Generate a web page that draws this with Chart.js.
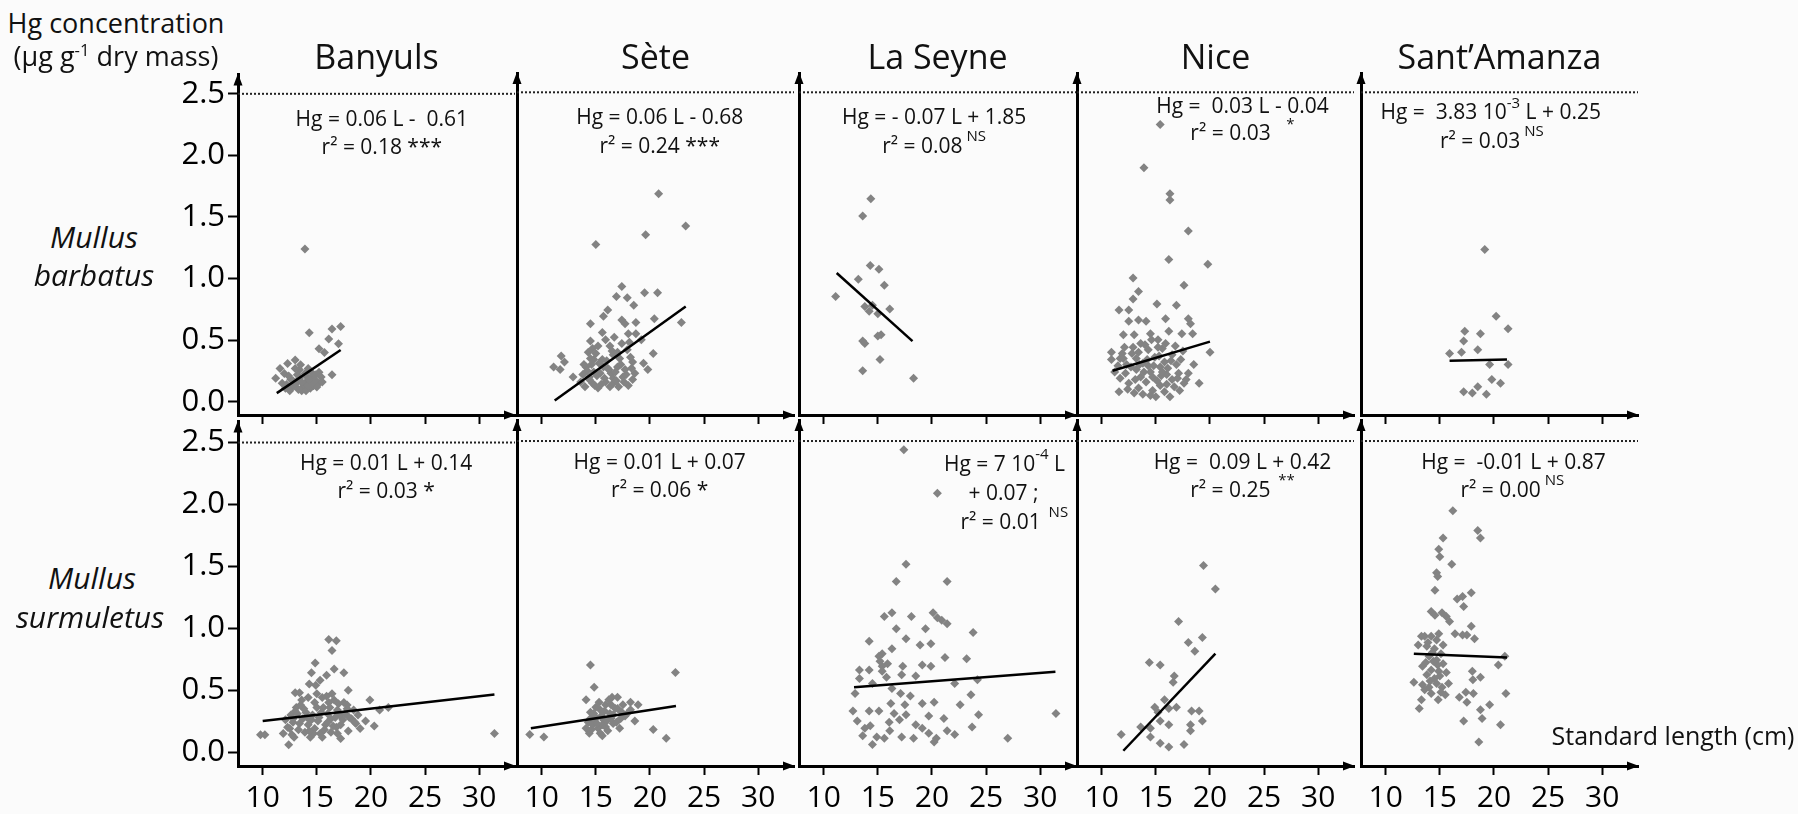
<!DOCTYPE html>
<html><head><meta charset="utf-8">
<script src="https://cdn.jsdelivr.net/npm/chart.js@4.4.0/dist/chart.umd.min.js"></script>
<style>
html,body{margin:0;padding:0;background:#fbfbfb;}
body{width:1798px;height:814px;position:relative;overflow:hidden;font-family:'Open Sans',sans-serif;color:#111;}
canvas{position:absolute;}
.lbl{position:absolute;white-space:nowrap;transform:translate(-50%,-50%);line-height:1;}
.lbl sup{font-size:0.62em;vertical-align:0.55em;line-height:0;}
</style></head><body>
<script>
// ---------- data ----------
const xTickValues = [10, 15, 20, 25, 30];
const xTickLabels = ['10', '15', '20', '25', '30'];
const yTickValues = [0, 0.5, 1, 1.5, 2, 2.5];
const yTickLabels = ['0.0', '0.5', '1.0', '1.5', '2.0', '2.5'];
const threshold = [2.5];
const sites = ['Banyuls', 'Sète', 'La Seyne', 'Nice', 'Sant’Amanza'];
const speciesNames = [['Mullus', 'barbatus'], ['Mullus', 'surmuletus']];

// Mullus barbatus: [standard length (cm), Hg (µg/g dw)]
const mbBanyuls = [[13.9,1.24],[14.3,0.56],[16.4,0.59],[17.2,0.61],[16.1,0.51],[17.0,0.47],[15.2,0.43],[15.7,0.40],[13.0,0.34],[12.3,0.31],[11.6,0.27],[11.2,0.19],[12.0,0.23],[15.2,0.24],[16.4,0.22],[15.2,0.15],[12.1,0.11],[12.6,0.18],[13.1,0.15],[13.4,0.19],[13.7,0.12],[14.0,0.16],[14.4,0.11],[13.9,0.23],[14.5,0.20],[12.7,0.12],[13.6,0.09],[14.7,0.13],[14.2,0.27],[13.4,0.26],[14.8,0.18],[12.5,0.09],[13.2,0.22],[15.4,0.20],[14.5,0.24],[11.8,0.15],[14.0,0.09],
  [12.9,0.13],[13.3,0.10],[13.8,0.14],[14.2,0.13],[14.6,0.16],[15.0,0.12],[12.4,0.21],[13.0,0.27],[13.5,0.30],[14.1,0.20],[14.9,0.22],[12.8,0.17],[13.6,0.16],[14.3,0.18],[15.5,0.16],[12.2,0.14]];
const mbSete = [[20.8,1.68],[23.3,1.42],[19.6,1.35],[15.0,1.27],[17.4,0.93],[16.9,0.85],[17.9,0.84],[18.5,0.78],[19.5,0.88],[20.7,0.88],[16.1,0.74],[15.7,0.69],[14.5,0.63],[17.4,0.66],[17.7,0.63],[18.7,0.64],[20.4,0.67],[22.9,0.64],[15.6,0.56],[18.0,0.55],[18.7,0.55],[14.5,0.49],[19.2,0.50],[16.3,0.45],[14.7,0.43],[11.8,0.37],[12.1,0.32],[11.1,0.28],[11.7,0.26],[12.9,0.20],[20.3,0.39],[18.4,0.32],[19.4,0.31],[19.8,0.26],[18.4,0.18],[14.1,0.28],[14.8,0.34],[15.4,0.23],[15.9,0.16],[16.6,0.38],[17.0,0.28],[17.5,0.20],[18.0,0.13],[14.0,0.12],[14.7,0.15],[15.2,0.11],[16.3,0.12],[17.1,0.12],[14.4,0.20],[15.7,0.28],[16.4,0.23],[17.2,0.35],[17.9,0.42],[18.2,0.36],[15.0,0.39],[14.5,0.35],[15.6,0.34],[16.1,0.27],[16.6,0.19],[17.7,0.26],[14.8,0.24],[14.4,0.18],[18.6,0.23],[13.6,0.16],[16.6,0.15],
  [14.2,0.25],[14.6,0.30],[15.1,0.21],[15.3,0.31],[15.8,0.19],[16.0,0.33],[16.2,0.26],[16.8,0.24],[17.3,0.30],[17.6,0.16],[13.8,0.22],[14.9,0.13],[15.5,0.14],[16.9,0.17],[17.8,0.22],[18.3,0.27],[15.2,0.45],[15.9,0.50],[16.7,0.52],[17.4,0.47],[18.1,0.48],[14.3,0.40],[13.9,0.30],[16.5,0.41],[17.0,0.40]];
const mbLaSeyne = [[14.35,1.64],[13.6,1.50],[14.3,1.10],[15.1,1.07],[13.2,0.99],[15.6,0.94],[11.1,0.85],[13.8,0.77],[14.5,0.78],[14.2,0.73],[16.1,0.75],[15.0,0.71],[15.3,0.54],[15.0,0.53],[13.6,0.49],[13.8,0.47],[15.2,0.34],[13.6,0.25],[18.3,0.19]];
const mbNice = [[15.4,2.24],[13.9,1.89],[16.3,1.68],[16.3,1.63],[18.0,1.38],[16.2,1.15],[19.8,1.11],[12.9,1.00],[17.6,0.94],[13.4,0.89],[12.9,0.83],[15.1,0.79],[16.9,0.78],[11.6,0.74],[12.5,0.74],[12.5,0.65],[13.4,0.66],[14.1,0.65],[15.9,0.67],[18.0,0.67],[18.2,0.63],[12.0,0.54],[13.0,0.54],[14.5,0.55],[16.2,0.57],[17.4,0.55],[18.4,0.55],[15.2,0.50],[10.9,0.40],[20.0,0.40],[11.7,0.35],[19.0,0.15],[16.3,0.04],[11.6,0.08],[17.8,0.18],[17.3,0.34],[12.1,0.44],[12.8,0.39],[13.6,0.47],[14.3,0.42],[14.9,0.36],[15.6,0.43],[16.5,0.38],[16.9,0.30],[12.3,0.30],[13.2,0.26],[13.8,0.31],[14.5,0.24],[15.4,0.28],[16.0,0.22],[17.1,0.23],[11.7,0.19],[12.5,0.15],[13.4,0.11],[14.1,0.16],[14.7,0.09],[15.4,0.13],[15.8,0.08],[16.7,0.12],[17.6,0.15],[13.0,0.07],[13.6,0.20],[16.5,0.18],[14.7,0.20],[11.2,0.24],[11.9,0.39],[13.2,0.35],[15.2,0.44],[15.8,0.32],[14.5,0.05],[18.0,0.23],[10.9,0.34],
  [12.2,0.23],[12.7,0.28],[13.1,0.18],[13.5,0.30],[13.9,0.24],[14.2,0.34],[14.8,0.29],[15.1,0.17],[15.5,0.21],[16.1,0.27],[16.4,0.33],[17.0,0.19],[12.9,0.44],[13.4,0.40],[14.0,0.46],[14.6,0.50],[15.3,0.37],[15.9,0.47],[16.8,0.45],[17.5,0.41],[12.4,0.10],[13.8,0.06],[15.0,0.04],[16.0,0.14],[17.2,0.09],[11.5,0.29],[12.0,0.35],[18.5,0.30],[14.3,0.29],[15.6,0.24]];
const mbSantAmanza = [[19.15,1.23],[20.2,0.69],[21.3,0.59],[17.3,0.57],[18.75,0.55],[17.2,0.49],[15.9,0.39],[17.0,0.40],[18.5,0.42],[19.6,0.30],[21.3,0.30],[19.8,0.18],[20.6,0.15],[18.5,0.12],[17.2,0.08],[18.0,0.07],[19.3,0.06]];

// Mullus surmuletus
const msBanyuls = [[31.4,0.15],[16.1,0.91],[16.8,0.90],[16.4,0.82],[14.85,0.72],[14.5,0.64],[16.6,0.67],[17.5,0.64],[15.9,0.62],[15.3,0.58],[14.9,0.54],[17.9,0.50],[14.3,0.55],[13.0,0.48],[13.4,0.48],[19.9,0.42],[17.8,0.38],[20.8,0.34],[21.6,0.36],[19.5,0.25],[20.3,0.21],[18.6,0.23],[9.8,0.14],[10.2,0.14],[12.4,0.06],[17.2,0.11],[11.9,0.15],[12.1,0.26],[12.6,0.30],[13.1,0.36],[13.6,0.42],[14.0,0.32],[14.5,0.26],[15.0,0.36],[15.5,0.44],[16.0,0.31],[16.4,0.47],[16.9,0.34],[17.4,0.26],[17.9,0.17],[12.5,0.19],[12.9,0.12],[13.4,0.23],[13.9,0.16],[14.4,0.12],[14.8,0.19],[15.3,0.15],[15.8,0.22],[16.3,0.16],[16.8,0.20],[18.2,0.27],[18.8,0.30],[17.5,0.40],[16.1,0.40],[15.2,0.28],[13.7,0.27],[13.2,0.31],[14.2,0.44],[15.6,0.36],[17.1,0.30],[18.4,0.34],[12.8,0.24],[16.3,0.27],[14.7,0.15],[19.0,0.19],
  [12.3,0.20],[12.8,0.27],[13.3,0.18],[13.8,0.35],[14.2,0.22],[14.6,0.30],[15.1,0.25],[15.4,0.32],[15.7,0.18],[16.0,0.24],[16.2,0.36],[16.5,0.21],[16.7,0.28],[17.0,0.39],[17.2,0.22],[17.6,0.31],[13.5,0.38],[14.1,0.28],[14.8,0.40],[15.9,0.45],[16.6,0.42],[13.0,0.33],[12.7,0.14],[14.3,0.17],[15.5,0.12],[16.9,0.15],[18.0,0.28],[18.5,0.24],[17.8,0.35],[15.0,0.47]];
const msSete = [[8.9,0.14],[10.2,0.12],[14.5,0.70],[22.35,0.64],[14.85,0.52],[14.1,0.42],[16.5,0.44],[17.0,0.44],[18.2,0.40],[18.9,0.38],[18.6,0.25],[20.3,0.18],[21.5,0.11],[15.6,0.13],[14.4,0.15],[14.5,0.32],[15.0,0.28],[15.4,0.34],[15.7,0.26],[16.3,0.31],[16.6,0.23],[17.0,0.35],[17.3,0.27],[17.9,0.31],[14.7,0.22],[15.2,0.19],[16.1,0.17],[16.6,0.30],[14.9,0.26],[15.6,0.22],[14.1,0.19],[17.5,0.38],[15.9,0.38],[18.2,0.34],[14.5,0.27],[15.4,0.15],[17.2,0.19],[16.4,0.38],[15.0,0.36],
  [14.3,0.24],[14.8,0.31],[15.1,0.23],[15.5,0.29],[15.8,0.33],[16.0,0.25],[16.4,0.27],[16.9,0.24],[17.4,0.32],[15.3,0.40],[16.2,0.42],[14.6,0.18],[17.7,0.29],[16.8,0.35],[15.9,0.20]];
const msLaSeyne = [[17.4,2.43],[20.5,2.08],[17.6,1.51],[16.7,1.37],[21.4,1.37],[16.3,1.12],[15.6,1.09],[18.1,1.09],[20.1,1.12],[20.5,1.08],[20.9,1.06],[21.4,1.03],[16.7,0.99],[19.4,0.99],[23.8,0.96],[14.2,0.89],[17.6,0.91],[18.9,0.86],[19.9,0.87],[15.4,0.79],[16.3,0.83],[21.2,0.76],[23.2,0.75],[19.1,0.70],[19.9,0.69],[17.3,0.69],[13.3,0.66],[14.2,0.66],[15.4,0.69],[15.9,0.71],[18.5,0.61],[17.2,0.62],[22.1,0.55],[24.2,0.58],[13.3,0.59],[14.5,0.55],[16.3,0.51],[12.9,0.47],[18.0,0.45],[23.6,0.46],[17.1,0.47],[19.1,0.39],[20.2,0.40],[22.6,0.38],[16.2,0.39],[17.5,0.38],[12.7,0.33],[14.2,0.33],[15.1,0.33],[16.5,0.31],[17.6,0.30],[19.7,0.29],[24.3,0.30],[31.45,0.31],[13.1,0.25],[16.05,0.24],[17.0,0.26],[21.1,0.27],[18.5,0.22],[23.7,0.20],[13.8,0.19],[14.3,0.21],[16.1,0.17],[19.1,0.19],[19.7,0.15],[21.4,0.17],[22.1,0.14],[13.6,0.13],[14.9,0.12],[15.6,0.11],[17.2,0.12],[18.3,0.11],[20.2,0.08],[20.4,0.11],[27.0,0.11],[14.5,0.06],[15.1,0.77],[15.2,0.73],[15.4,0.65],[15.8,0.60]];
const msNice = [[19.4,1.50],[20.5,1.31],[17.1,1.05],[18.0,0.88],[19.3,0.92],[18.6,0.81],[14.4,0.72],[15.4,0.70],[16.7,0.61],[16.6,0.56],[15.8,0.42],[16.9,0.36],[16.2,0.35],[15.2,0.32],[18.3,0.33],[19.0,0.33],[15.4,0.25],[16.2,0.22],[18.2,0.22],[19.3,0.25],[18.2,0.17],[13.6,0.20],[14.5,0.19],[14.5,0.12],[11.8,0.14],[15.4,0.07],[16.2,0.04],[17.6,0.06],[14.9,0.36]];
const msSantAmanza = [[16.2,1.94],[15.3,1.72],[18.5,1.78],[18.75,1.72],[14.9,1.63],[15.0,1.57],[16.1,1.51],[14.7,1.44],[14.8,1.41],[14.55,1.30],[17.9,1.28],[17.1,1.25],[16.6,1.23],[17.2,1.17],[14.2,1.13],[14.55,1.10],[15.2,1.12],[15.6,1.09],[15.9,1.05],[16.4,0.95],[17.1,0.94],[17.5,0.94],[17.9,1.01],[18.2,0.91],[13.3,0.93],[13.6,0.93],[14.2,0.93],[14.7,0.90],[13.0,0.86],[13.8,0.85],[14.5,0.83],[15.1,0.79],[14.0,0.77],[14.7,0.74],[15.3,0.71],[21.0,0.77],[20.4,0.70],[13.4,0.69],[14.2,0.66],[14.9,0.65],[13.8,0.62],[14.5,0.59],[18.0,0.65],[18.75,0.60],[18.05,0.58],[12.6,0.56],[13.4,0.54],[14.0,0.52],[14.7,0.55],[15.2,0.52],[15.8,0.55],[13.6,0.50],[14.2,0.47],[15.1,0.48],[15.5,0.46],[14.85,0.42],[17.4,0.48],[18.1,0.47],[16.8,0.44],[21.1,0.47],[17.5,0.40],[13.3,0.42],[13.1,0.35],[18.75,0.34],[19.6,0.38],[18.9,0.27],[17.2,0.25],[20.6,0.22],[18.6,0.08],
  [13.9,0.88],[14.3,0.80],[14.8,0.70],[15.0,0.61],[14.4,0.73],[13.7,0.72],[15.3,0.86],[14.1,0.57],[15.6,0.64],[14.9,0.95]];

// regression line end points [L, Hg]
const mbBanyulsFit = [[11.3,0.07],[17.2,0.42]];
const mbSeteFit = [[11.2,0.01],[23.3,0.77]];
const mbLaSeyneFit = [[11.2,1.04],[18.2,0.49]];
const mbNiceFit = [[11.0,0.25],[20.0,0.485]];
const mbSantAmanzaFit = [[15.9,0.33],[21.2,0.34]];
const msBanyulsFit = [[10.0,0.25],[31.4,0.465]];
const msSeteFit = [[9.0,0.19],[22.4,0.37]];
const msLaSeyneFit = [[12.8,0.52],[31.4,0.645]];
const msNiceFit = [[12.0,0.01],[20.5,0.79]];
const msSantAmanzaFit = [[12.6,0.79],[21.2,0.76]];

// regression text per panel (text, superscript flag)
const eqTexts = [
  [ [[['Hg = 0.06 L -  0.61',0]]], [[['r² = 0.18 ',0],['***',0]]] ],
  [ [[['Hg = 0.06 L - 0.68',0]]], [[['r² = 0.24 ',0],['***',0]]] ],
  [ [[['Hg = - 0.07 L + 1.85',0]]], [[['r² = 0.08',0],[' NS',1]]] ],
  [ [[['Hg =  0.03 L - 0.04',0]]], [[['r² = 0.03',0],['    *',1]]] ],
  [ [[['Hg =  3.83 10',0],['-3',1],[' L + 0.25',0]]], [[['r² = 0.03',0],[' NS',1]]] ],
  [ [[['Hg = 0.01 L + 0.14',0]]], [[['r² = 0.03 *',0]]] ],
  [ [[['Hg = 0.01 L + 0.07',0]]], [[['r² = 0.06 *',0]]] ],
  [ [[['Hg = 7 10',0],['-4',1],[' L',0]]], [[['+ 0.07 ;',0]]], [[['r² = 0.01',0],['  NS',1]]] ],
  [ [[['Hg =  0.09 L + 0.42',0]]], [[['r² = 0.25',0],['  **',1]]] ],
  [ [[['Hg =  -0.01 L + 0.87',0]]], [[['r² = 0.00',0],[' NS',1]]] ]
];
// ---------- layout ----------
const eqPos = [
  [[21.0,2.29],[21.0,2.06]], [[20.9,2.29],[20.9,2.06]], [[20.2,2.29],[20.2,2.06]],
  [[23.0,2.385],[23.0,2.16]], [[19.7,2.33],[19.8,2.10]],
  [[21.4,2.325],[21.4,2.10]], [[20.9,2.325],[20.9,2.10]], [[26.7,2.31],[26.6,2.07],[27.6,1.84]],
  [[23.0,2.325],[23.0,2.10]], [[21.8,2.325],[21.7,2.10]]
];
const pointSets = [mbBanyuls, mbSete, mbLaSeyne, mbNice, mbSantAmanza, msBanyuls, msSete, msLaSeyne, msNice, msSantAmanza];
const fitSets = [mbBanyulsFit, mbSeteFit, mbLaSeyneFit, mbNiceFit, mbSantAmanzaFit, msBanyulsFit, msSeteFit, msLaSeyneFit, msNiceFit, msSantAmanzaFit];

const AXIS_X = [238, 517, 799, 1077, 1361];
const PLOT_W = 277;
const ROW_TOP = [73, 420];
const ROW_BOTTOM = [415, 766];
const Y_RANGE = [[-0.1075, 2.656], [-0.1126, 2.669]];
const X_MIN = 7.72, X_MAX = 33.3;
const PL = 95, PR = 25, PT = 20, PB = 60;
const FONT = "'Open Sans', sans-serif";

function addLabel(html, x, y, style) {
  const d = document.createElement('div');
  d.className = 'lbl';
  d.innerHTML = html;
  d.style.left = x + 'px'; d.style.top = y + 'px';
  Object.assign(d.style, style || {});
  document.body.appendChild(d);
}

const arrowPlugin = {
  id: 'arrows',
  afterDraw(chart) {
    const {ctx, chartArea: a} = chart;
    ctx.save();
    ctx.fillStyle = '#000';
    ctx.beginPath();
    ctx.moveTo(a.left, a.top - 1); ctx.lineTo(a.left - 4.5, a.top + 11); ctx.lineTo(a.left + 4.5, a.top + 11); ctx.closePath(); ctx.fill();
    ctx.beginPath();
    ctx.moveTo(a.right + 1, a.bottom); ctx.lineTo(a.right - 11, a.bottom - 4.5); ctx.lineTo(a.right - 11, a.bottom + 4.5); ctx.closePath(); ctx.fill();
    ctx.restore();
  }
};

const eqPlugin = {
  id: 'eqText',
  afterDatasetsDraw(chart) {
    const idx = chart.options.plugins.eqText.panel;
    const lines = eqTexts[idx], pos = eqPos[idx];
    const {ctx, scales: {x, y}} = chart;
    ctx.save();
    ctx.fillStyle = '#111';
    ctx.textBaseline = 'middle';
    ctx.textAlign = 'left';
    const fN = "21px " + FONT, fS = "15px " + FONT;
    lines.forEach((ln, i) => {
      const parts = ln[0];
      let w = 0;
      parts.forEach(p => { ctx.font = p[1] ? fS : fN; w += ctx.measureText(p[0]).width; });
      let px = x.getPixelForValue(pos[i][0]) - w / 2;
      const py = y.getPixelForValue(pos[i][1]);
      parts.forEach(p => {
        ctx.font = p[1] ? fS : fN;
        ctx.fillText(p[0], px, p[1] ? py - 10 : py);
        px += ctx.measureText(p[0]).width;
      });
    });
    ctx.restore();
  }
};

for (let r = 0; r < 2; r++) {
  for (let c = 0; c < 5; c++) {
    const idx = r * 5 + c;
    const plotH = ROW_BOTTOM[r] - ROW_TOP[r];
    const cv = document.createElement('canvas');
    const W = PL + PLOT_W + PR, H = PT + plotH + PB;
    cv.width = W; cv.height = H;
    cv.style.left = (AXIS_X[c] - PL) + 'px';
    cv.style.top = (ROW_TOP[r] - PT) + 'px';
    cv.style.width = W + 'px'; cv.style.height = H + 'px';
    document.body.appendChild(cv);
    const first = c === 0, bottom = r === 1;
    new Chart(cv, {
      type: 'scatter',
      data: {
        datasets: [
          { type: 'line', data: fitSets[idx].map(p => ({x: p[0], y: p[1]})), borderColor: '#000', borderWidth: 2.5, pointRadius: 0, fill: false, order: 0 },
          { type: 'line', data: [{x: X_MIN, y: threshold[0]}, {x: X_MAX, y: threshold[0]}], borderColor: '#222', borderWidth: 2, borderDash: [2, 2], pointRadius: 0, fill: false, order: 3 },
          { type: 'scatter', data: pointSets[idx].map(p => ({x: p[0], y: p[1]})), pointStyle: 'rectRot', pointRadius: 4.5, backgroundColor: '#838383', borderWidth: 0, order: 2 }
        ]
      },
      options: {
        responsive: false, animation: false, devicePixelRatio: 1,
        layout: { padding: { left: 0, right: PR, top: PT, bottom: 0 }, autoPadding: false },
        plugins: { legend: { display: false }, tooltip: { enabled: false }, eqText: { panel: idx } },
        scales: {
          x: {
            type: 'linear', min: X_MIN, max: X_MAX,
            afterFit: s => { s.height = PB; },
            afterBuildTicks: s => { s.ticks = xTickValues.map(v => ({value: v})); },
            grid: { display: true, drawOnChartArea: false, drawTicks: true, tickLength: 9, tickWidth: 2, tickColor: '#000' },
            border: { display: true, color: '#000', width: 3 },
            ticks: { display: bottom, font: { family: FONT, size: 30 }, color: '#000', padding: 5, maxRotation: 0, autoSkip: false,
                     callback: (v, i) => xTickLabels[i] }
          },
          y: {
            type: 'linear', min: Y_RANGE[r][0], max: Y_RANGE[r][1],
            afterFit: s => { s.width = PL; },
            afterBuildTicks: s => { s.ticks = yTickValues.map(v => ({value: v})); },
            grid: { display: first, drawOnChartArea: false, drawTicks: true, tickLength: 10, tickWidth: 2, tickColor: '#000' },
            border: { display: true, color: '#000', width: 3 },
            ticks: { display: first, font: { family: FONT, size: 31 }, color: '#000', padding: 3,
                     callback: (v, i) => yTickLabels[i] }
          }
        }
      },
      plugins: [arrowPlugin, eqPlugin]
    });
  }
}

// titles and labels
sites.forEach((s, c) => addLabel(s, AXIS_X[c] + PLOT_W / 2, 56, { fontSize: '34px' }));
addLabel('Hg concentration', 116, 22, { fontSize: '27px' });
addLabel('(µg g<sup>-1</sup> dry mass)', 116, 55, { fontSize: '27px' });
addLabel(speciesNames[0][0], 94, 237, { fontSize: '30px', fontStyle: 'italic' });
addLabel(speciesNames[0][1], 94, 275, { fontSize: '30px', fontStyle: 'italic' });
addLabel(speciesNames[1][0], 92, 578, { fontSize: '30px', fontStyle: 'italic' });
addLabel(speciesNames[1][1], 90, 617, { fontSize: '30px', fontStyle: 'italic' });
addLabel('Standard length (cm)', 1673, 735, { fontSize: '25px' });
</script>
</body></html>
